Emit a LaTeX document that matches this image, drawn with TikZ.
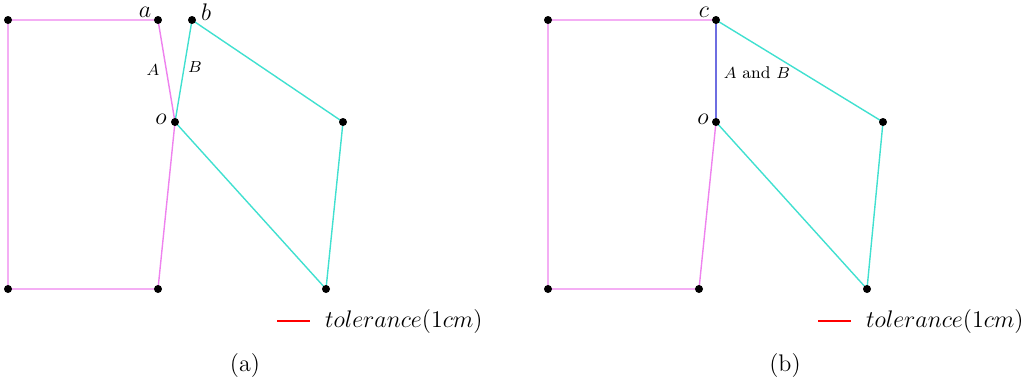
\documentclass[tikz,border=0pt]{standalone}
\usetikzlibrary{backgrounds}
\definecolor{mag}{RGB}{238,130,238}
\definecolor{tq}{RGB}{64,224,208}
\definecolor{bl}{RGB}{110,110,225}
\begin{document}
\begin{tikzpicture}[x=0.5pt,y=-0.5pt,
  pt/.style={circle,fill=black,inner sep=0pt,minimum size=4pt},
  mline/.style={draw=mag,line width=0.7pt},
  tline/.style={draw=tq,line width=0.7pt},
  bline/.style={draw=bl,line width=0.7pt},
  big/.style={font=\fontsize{12}{14}\selectfont},
  small/.style={font=\fontsize{8.5}{10}\selectfont},
  leg/.style={font=\fontsize{12.8}{14}\selectfont},
  captext/.style={font=\fontsize{12}{14}\selectfont}]
\useasboundingbox (0,0) rectangle (1027,382);
% panel (a)
\node[pt] (p1) at (8,20) {};
\node[pt] (a) at (158,20) {};
\node[pt] (o1) at (175,122) {};
\node[pt] (p2) at (158,289) {};
\node[pt] (p3) at (8,289) {};
\node[pt] (b) at (192,20) {};
\node[pt] (q1) at (343,122) {};
\node[pt] (q2) at (326,289) {};
\begin{scope}[on background layer]
\draw[mline] (p1.center) -- (a.center) -- (o1.center) -- (p2.center) -- (p3.center) -- (p1.center);
\draw[tline] (b.center) -- (q1.center) -- (q2.center) -- (o1.center) -- (b.center);
\end{scope}
\node[big] (la) at (145,12) {$a$};
\node[big] (lb) at (206,12) {$b$};
\node[small] (lA) at (153,70) {$A$};
\node[small] (lB) at (195,67) {$B$};
\node[big] (lo1) at (161,119) {$o$};
\coordinate (r1) at (277,321);
\coordinate (r2) at (310,321);
\draw[red,line width=0.7pt] (r1) -- (r2);
\node[leg,anchor=west] (t1) at (318,321) {$tolerance(1cm)$};
\node[captext] (ca) at (245,365) {(a)};
% panel (b)
\node[pt] (s1) at (548,20) {};
\node[pt] (c) at (716,20) {};
\node[pt] (o2) at (716,122) {};
\node[pt] (s2) at (699,289) {};
\node[pt] (s3) at (548,289) {};
\node[pt] (u1) at (883,122) {};
\node[pt] (u2) at (867,289) {};
\begin{scope}[on background layer]
\draw[mline] (c.center) -- (s1.center) -- (s3.center) -- (s2.center) -- (o2.center);
\draw[tline] (c.center) -- (u1.center) -- (u2.center) -- (o2.center);
\draw[bline] (c.center) -- (o2.center);
\end{scope}
\node[big] (lc) at (704,12) {$c$};
\node[small] (lAB) at (757,73) {$A$ and $B$};
\node[big] (lo2) at (703,119) {$o$};
\coordinate (r3) at (818,321);
\coordinate (r4) at (851,321);
\draw[red,line width=0.7pt] (r3) -- (r4);
\node[leg,anchor=west] (t2) at (859,321) {$tolerance(1cm)$};
\node[captext] (cb) at (785,365) {(b)};
\end{tikzpicture}
\end{document}
